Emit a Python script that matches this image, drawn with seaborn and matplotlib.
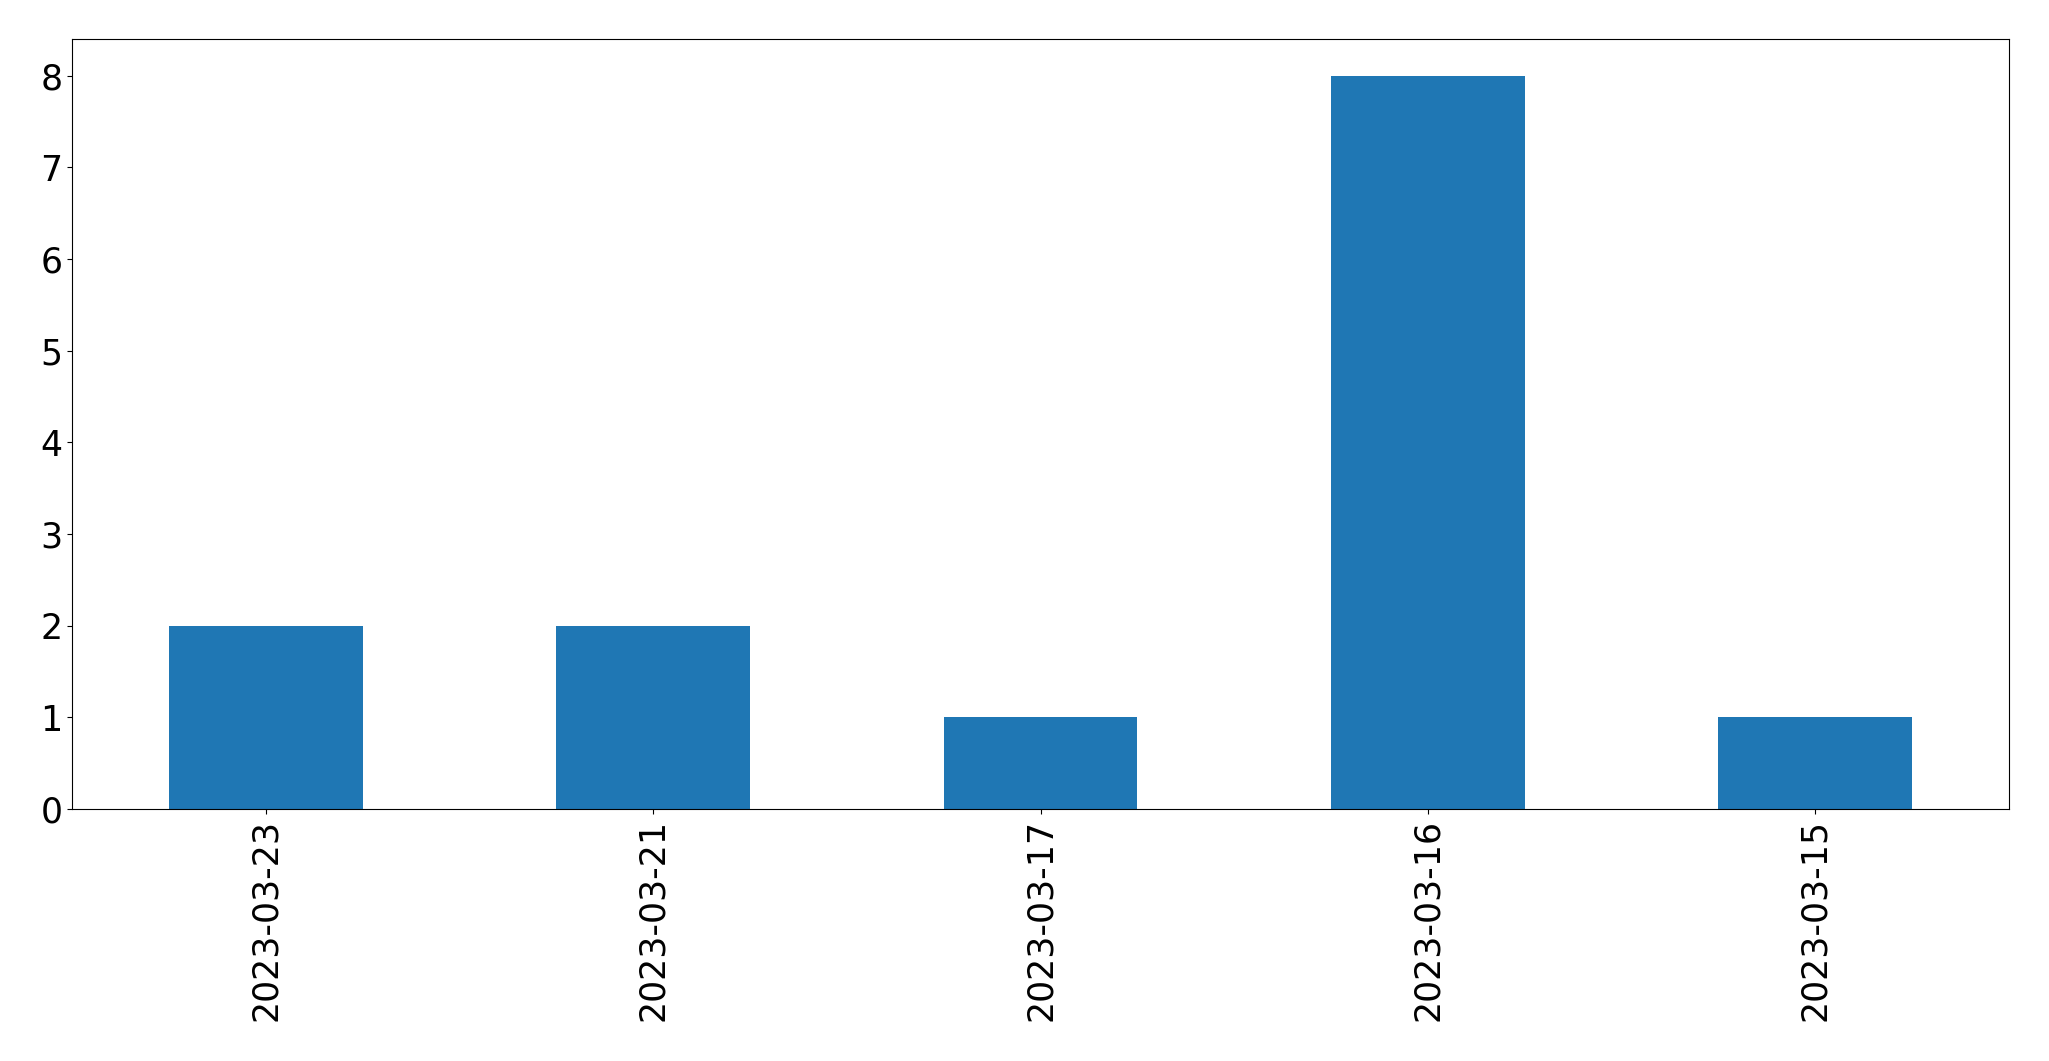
import pandas as pd
import matplotlib
matplotlib.use("Agg")
import matplotlib.pyplot as plt
import seaborn as sns

# values
dates = ['2023-03-23', '2023-03-21', '2023-03-17', '2023-03-16', '2023-03-15']
counts = [2, 2, 1, 8, 1]

df = pd.DataFrame({'date': dates, 'count': counts})

fig = plt.figure(figsize=(20.49, 10.61), dpi=100)
ax = fig.add_axes([72 / 2049, 1 - 809 / 1061, (2009 - 72) / 2049, (809 - 39) / 1061])

sns.barplot(data=df, x='date', y='count', order=dates, color='#1f77b4',
            saturation=1, width=0.5, ax=ax)

ax.set_xlim(-0.5, len(dates) - 0.5)
ax.set_ylim(0, 8.4)
ax.set_xlabel('')
ax.set_ylabel('')
ax.tick_params(axis='both', labelsize=25)
plt.setp(ax.get_xticklabels(), rotation=90)

fig.savefig('out.png', dpi=100)
